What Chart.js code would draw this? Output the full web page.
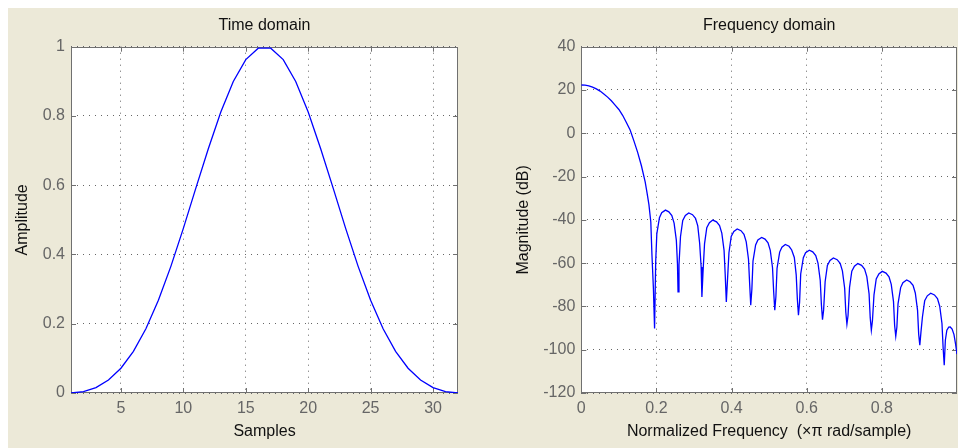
<!DOCTYPE html>
<html>
<head>
<meta charset="utf-8">
<title>Window visualization</title>
<script src="https://cdn.jsdelivr.net/npm/chart.js@4.4.1/dist/chart.umd.min.js"></script>
<style>
  html, body { margin: 0; padding: 0; background: #fff; overflow: hidden; }
  #panel { position: absolute; left: 8px; top: 8px; width: 950px; height: 440px; background: #ece9d8; }
  canvas { position: absolute; top: 0; }
  #timeChart { left: 0; }
  #freqChart { left: 479px; }
</style>
</head>
<body>
<div id="panel"></div>
<canvas id="timeChart" width="479" height="448"></canvas>
<canvas id="freqChart" width="479" height="448"></canvas>
<script>
// time domain: 32 samples of the window
const sampleIdx = [1, 2, 3, 4, 5, 6, 7, 8, 9, 10, 11, 12, 13, 14, 15, 16,
                   17, 18, 19, 20, 21, 22, 23, 24, 25, 26, 27, 28, 29, 30, 31, 32];
const windowAmp = [0, 0.0038, 0.0156, 0.0374, 0.0715, 0.1204, 0.1856, 0.2680,
                   0.3657, 0.4754, 0.5916, 0.7055, 0.8115, 0.8995, 0.9627, 0.9958,
                   0.9958, 0.9627, 0.8995, 0.8115, 0.7055, 0.5916, 0.4754, 0.3657,
                   0.2680, 0.1856, 0.1204, 0.0715, 0.0374, 0.0156, 0.0038, 0];
const sampleTicks = [5, 10, 15, 20, 25, 30];
const ampTicks = [0, 0.2, 0.4, 0.6, 0.8, 1];

// frequency domain: magnitude in dB
const normFreq = [
  0, 0.01, 0.02, 0.03, 0.04, 0.05, 0.06, 0.07, 0.08, 0.09, 0.1, 0.11, 0.12, 0.13,
  0.14, 0.15, 0.16, 0.17, 0.175, 0.18, 0.185, 0.188, 0.192, 0.195,
  0.198, 0.201, 0.208, 0.214, 0.224, 0.233, 0.241, 0.247, 0.253, 0.256, 0.2575,
  0.26, 0.264, 0.27, 0.277, 0.286, 0.296, 0.304, 0.31, 0.315, 0.319, 0.321,
  0.324, 0.328, 0.334, 0.341, 0.35, 0.36, 0.368, 0.374, 0.38, 0.383, 0.386,
  0.389, 0.393, 0.399, 0.406, 0.415, 0.425, 0.433, 0.439, 0.445, 0.448, 0.451,
  0.454, 0.457, 0.464, 0.47, 0.48, 0.489, 0.497, 0.503, 0.509, 0.512, 0.515,
  0.518, 0.521, 0.528, 0.534, 0.543, 0.553, 0.56, 0.567, 0.572, 0.575, 0.578,
  0.581, 0.584, 0.591, 0.597, 0.607, 0.616, 0.624, 0.63, 0.636, 0.639, 0.642,
  0.645, 0.649, 0.655, 0.662, 0.671, 0.681, 0.689, 0.695, 0.701, 0.704, 0.707,
  0.71, 0.714, 0.72, 0.727, 0.736, 0.746, 0.754, 0.76, 0.766, 0.769, 0.772,
  0.775, 0.779, 0.785, 0.792, 0.801, 0.811, 0.819, 0.825, 0.831, 0.834, 0.837,
  0.84, 0.843, 0.85, 0.856, 0.866, 0.875, 0.883, 0.889, 0.895, 0.898, 0.901,
  0.904, 0.908, 0.914, 0.921, 0.93, 0.94, 0.948, 0.954, 0.96, 0.963, 0.966,
  0.969, 0.973, 0.978, 0.982, 0.987, 0.992, 0.996, 1.0
];
const magDb = [
  22.3, 22.2, 21.9, 21.3, 20.5, 19.5, 18.2, 16.7, 15.0, 13.0, 11.0, 8.3, 5.0, 1.5,
  -3.5, -8.8, -15, -22.5, -27.5, -33, -41, -56, -72, -90.2,
  -59.5, -46.5, -39, -36.7, -35.5, -36.3, -38, -41.5, -49.5, -60.5, -73.3,
  -60.8, -47.8, -40.3, -38, -36.8, -37.6, -39.3, -42.8, -50.8, -61.8, -75.6,
  -64.1, -51.1, -43.6, -41.3, -40.1, -40.9, -42.6, -46.1, -54.1, -65.1, -77.9,
  -68.2, -55.2, -47.7, -45.4, -44.2, -45, -46.7, -50.2, -58.2, -69.2, -79.4,
  -72.1, -59.1, -51.6, -49.3, -48.1, -48.9, -50.6, -54.1, -62.1, -73.1, -81.8,
  -75.4, -62.4, -54.9, -52.6, -51.4, -52.2, -53.9, -57.4, -65.4, -76.4, -84.1,
  -78, -65, -57.5, -55.2, -54, -54.8, -56.5, -60, -68, -79, -86.1,
  -81.6, -68.6, -61.1, -58.8, -57.6, -58.4, -60.1, -63.6, -71.6, -82.6, -88.2,
  -84.2, -71.2, -63.7, -61.4, -60.2, -61, -62.7, -66.2, -74.2, -85.2, -91.0,
  -86.5, -74.8, -67.3, -65, -63.8, -64.6, -66.3, -69.8, -77.8, -88.8, -93.8,
  -89.5, -78.8, -71.3, -69, -67.8, -68.6, -70.3, -73.8, -81.8, -92.8, -97.9,
  -92, -84.9, -77.4, -75.1, -73.9, -74.7, -76.4, -79.9, -87.9, -98.9, -107.2,
  -95.6, -91, -89.6, -89.5, -90.5, -93, -97.2, -102
];
const freqTicks = [0, 0.2, 0.4, 0.6, 0.8];
const dbTicks = [-120, -100, -80, -60, -40, -20, 0, 20, 40];

const FONT = '"Liberation Sans", Arial, sans-serif';
const tickFont = { family: FONT, size: 16 };
const labelFont = { family: FONT, size: 16 };

// white axes background, then box with small inward tick marks like matlab
const matlabBox = {
  id: 'matlabBox',
  beforeDraw(chart) {
    const { ctx, chartArea: a } = chart;
    ctx.save();
    ctx.fillStyle = '#fff';
    ctx.fillRect(a.left, a.top, a.width, a.height);
    ctx.restore();
  },
  beforeDatasetsDraw(chart) {
    const { ctx, chartArea: a, scales } = chart;
    ctx.save();
    ctx.strokeStyle = '#707070';
    ctx.lineWidth = 1;
    ctx.beginPath();
    scales.x.ticks.forEach(t => {
      const px = Math.round(scales.x.getPixelForValue(t.value)) + 0.5;
      ctx.moveTo(px, a.bottom); ctx.lineTo(px, a.bottom - 5);
      ctx.moveTo(px, a.top); ctx.lineTo(px, a.top + 5);
    });
    scales.y.ticks.forEach(t => {
      const py = Math.round(scales.y.getPixelForValue(t.value)) + 0.5;
      ctx.moveTo(a.left, py); ctx.lineTo(a.left + 5, py);
      ctx.moveTo(a.right, py); ctx.lineTo(a.right - 5, py);
    });
    ctx.stroke();
    ctx.strokeRect(Math.round(a.left) + 0.5, Math.round(a.top) + 0.5,
                   Math.round(a.width) - 1, Math.round(a.height) - 1);
    ctx.restore();
  }
};

function axisOpts(min, max, tickList, extra) {
  return Object.assign({
    type: 'linear',
    min: min,
    max: max,
    afterBuildTicks: s => { s.ticks = tickList.map(v => ({ value: v })); },
    grid: { color: '#666', lineWidth: 1, drawTicks: false },
    border: { display: false, dash: [1, 5] },
    ticks: { color: '#666', font: tickFont, padding: 6, maxRotation: 0, autoSkip: false,
             callback: v => String(v) }
  }, extra);
}

// Time domain
new Chart(document.getElementById('timeChart'), {
  type: 'line',
  data: {
    datasets: [{
      data: sampleIdx.map((s, i) => ({ x: s, y: windowAmp[i] })),
      borderColor: '#0000ff',
      borderWidth: 1.3,
      pointRadius: 0,
      tension: 0
    }]
  },
  options: {
    responsive: false,
    animation: false,
    layout: { padding: { left: 8, top: 8, right: 21, bottom: 0 } },
    plugins: {
      legend: { display: false },
      tooltip: { enabled: false },
      title: { display: true, text: 'Time domain', fullSize: false, color: '#111',
               font: { family: FONT, size: 16, weight: 'normal' }, padding: { top: 8.4, bottom: 11.1 } }
    },
    scales: {
      x: axisOpts(1, 32, sampleTicks, {
        afterFit: s => { s.height = 55; },
        title: { display: true, text: 'Samples', color: '#111', font: labelFont, padding: { bottom: 6.4 } }
      }),
      y: axisOpts(0, 1, ampTicks, {
        afterFit: s => { s.width = 63; },
        title: { display: true, text: 'Amplitude', color: '#111', font: labelFont, padding: { top: 4.7 } }
      })
    }
  },
  plugins: [matlabBox]
});

// Frequency domain
new Chart(document.getElementById('freqChart'), {
  type: 'line',
  data: {
    datasets: [{
      data: normFreq.map((f, i) => ({ x: f, y: magDb[i] })),
      borderColor: '#0000ff',
      borderWidth: 1.3,
      pointRadius: 0,
      tension: 0
    }]
  },
  options: {
    responsive: false,
    animation: false,
    layout: { padding: { left: 0, top: 8, right: 1, bottom: 0 } },
    plugins: {
      legend: { display: false },
      tooltip: { enabled: false },
      title: { display: true, text: 'Frequency domain', fullSize: false, color: '#111',
               font: { family: FONT, size: 16, weight: 'normal' }, padding: { top: 8.4, bottom: 11.1 } }
    },
    scales: {
      x: axisOpts(0, 1, freqTicks, {
        afterFit: s => { s.height = 55; },
        title: { display: true, text: 'Normalized Frequency  (×π rad/sample)', color: '#111',
                 font: labelFont, padding: { bottom: 6.4 } }
      }),
      y: axisOpts(-120, 40, dbTicks, {
        afterFit: s => { s.width = 102.3; },
        title: { display: true, text: 'Magnitude (dB)', color: '#111', font: labelFont, padding: { top: 34.7 } }
      })
    }
  },
  plugins: [matlabBox]
});
</script>
</body>
</html>
